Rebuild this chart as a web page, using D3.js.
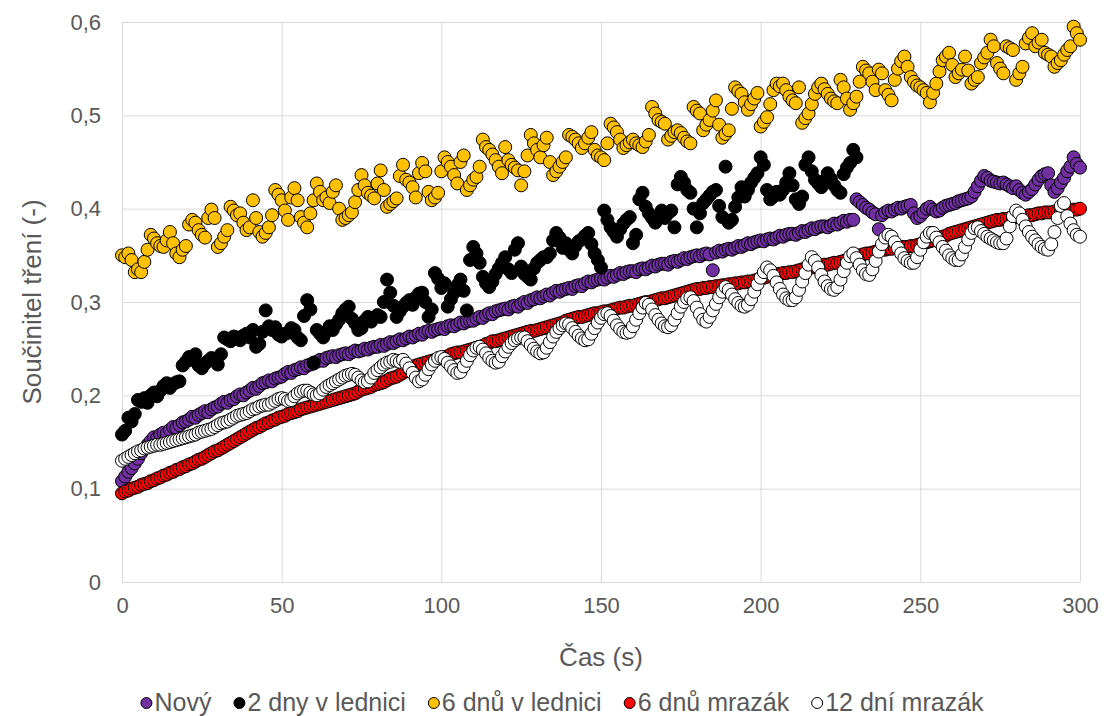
<!DOCTYPE html>
<html>
<head>
<meta charset="utf-8">
<script src="https://cdn.jsdelivr.net/npm/d3@7"></script>
<style>
  body { margin: 0; background: #fff; }
  text { font-family: "Liberation Sans", Arial, sans-serif; }
</style>
</head>
<body>
<svg id="chart" width="1104" height="716"></svg>
<script>
// Friction coefficient over time, one reading per second
const timeStep = 1; // s

const novy = [
0.108,0.113,0.118,0.122,0.127,0.132,0.138,0.143,0.147,0.151,
0.155,0.154,0.158,0.160,0.159,0.163,0.166,0.165,0.168,0.171,
0.172,0.174,0.177,0.176,0.179,0.181,0.183,0.182,0.185,0.187,
0.188,0.191,0.193,0.192,0.195,0.196,0.199,0.201,0.200,0.203,
0.205,0.208,0.207,0.210,0.213,0.214,0.216,0.215,0.218,0.219,
0.220,0.223,0.225,0.224,0.227,0.228,0.230,0.229,0.232,0.233,
0.234,0.236,0.238,0.237,0.240,0.241,0.242,0.241,0.243,0.244,
0.245,0.244,0.246,0.248,0.247,0.248,0.250,0.249,0.251,0.252,
0.252,0.254,0.253,0.255,0.257,0.256,0.258,0.260,0.259,0.261,
0.263,0.262,0.264,0.266,0.265,0.268,0.269,0.268,0.270,0.271,
0.272,0.271,0.274,0.275,0.274,0.276,0.278,0.277,0.279,0.280,
0.280,0.282,0.284,0.283,0.286,0.288,0.287,0.290,0.291,0.292,
0.293,0.292,0.295,0.296,0.295,0.298,0.300,0.299,0.302,0.303,
0.305,0.304,0.306,0.308,0.307,0.310,0.312,0.311,0.313,0.314,
0.315,0.314,0.317,0.318,0.317,0.320,0.322,0.321,0.323,0.324,
0.325,0.324,0.326,0.328,0.327,0.329,0.331,0.330,0.332,0.333,
0.333,0.332,0.335,0.336,0.335,0.337,0.339,0.338,0.340,0.341,
0.341,0.340,0.343,0.344,0.343,0.345,0.347,0.346,0.348,0.349,
0.350,0.349,0.351,0.352,0.351,0.334,0.353,0.355,0.354,0.356,
0.357,0.356,0.358,0.360,0.359,0.361,0.363,0.362,0.364,0.365,
0.366,0.365,0.367,0.368,0.367,0.369,0.371,0.370,0.372,0.373,
0.373,0.372,0.374,0.376,0.375,0.377,0.379,0.378,0.380,0.381,
0.381,0.380,0.382,0.384,0.383,0.385,0.387,0.386,0.388,0.388,
0.410,0.407,0.404,0.401,0.399,0.396,0.394,0.378,0.393,0.396,
0.398,0.397,0.399,0.401,0.400,0.402,0.403,0.404,0.395,0.390,
0.392,0.396,0.400,0.402,0.399,0.397,0.398,0.401,0.403,0.404,
0.405,0.406,0.408,0.409,0.410,0.411,0.413,0.418,0.424,0.430,
0.435,0.433,0.430,0.429,0.428,0.427,0.428,0.426,0.424,0.422,
0.424,0.420,0.417,0.415,0.418,0.421,0.426,0.431,0.435,0.437,
0.438,0.425,0.418,0.422,0.428,0.433,0.440,0.445,0.455,0.448,
0.444];

const dvaDnyLednice = [
0.158,0.162,0.176,0.172,0.180,0.195,0.193,0.197,0.192,0.200,
0.203,0.199,0.205,0.210,0.213,0.208,0.212,0.214,0.215,0.232,
0.236,0.241,0.238,0.244,0.232,0.229,0.234,0.237,0.240,0.238,
0.233,0.244,0.262,0.260,0.258,0.263,0.262,0.259,0.264,0.266,
0.262,0.270,0.252,0.255,0.268,0.291,0.274,0.270,0.273,0.265,
0.263,0.266,0.267,0.272,0.270,0.262,0.259,0.285,0.302,0.292,
0.235,0.270,0.266,0.262,0.268,0.274,0.270,0.276,0.281,0.288,
0.292,0.295,0.282,0.277,0.270,0.272,0.280,0.284,0.279,0.283,
0.286,0.284,0.300,0.324,0.310,0.296,0.284,0.290,0.295,0.299,
0.302,0.297,0.305,0.309,0.310,0.300,0.284,0.292,0.331,0.325,
0.315,0.320,0.295,0.303,0.310,0.318,0.324,0.312,0.291,0.345,
0.359,0.352,0.342,0.327,0.320,0.316,0.322,0.330,0.336,0.342,
0.348,0.335,0.331,0.356,0.363,0.338,0.330,0.327,0.324,0.336,
0.342,0.345,0.348,0.348,0.352,0.366,0.374,0.369,0.358,0.363,
0.356,0.352,0.360,0.365,0.367,0.371,0.374,0.362,0.352,0.345,
0.337,0.398,0.388,0.380,0.375,0.370,0.378,0.384,0.388,0.391,
0.363,0.372,0.410,0.417,0.402,0.395,0.390,0.385,0.392,0.398,
0.390,0.395,0.398,0.380,0.426,0.434,0.428,0.420,0.417,0.400,
0.380,0.395,0.406,0.410,0.414,0.418,0.420,0.403,0.391,0.445,
0.385,0.388,0.402,0.412,0.423,0.413,0.420,0.428,0.433,0.438,
0.455,0.447,0.420,0.410,0.413,0.418,0.415,0.420,0.428,0.438,
0.425,0.410,0.405,0.413,0.447,0.455,0.440,0.431,0.427,0.423,
0.430,0.438,0.432,0.425,0.420,0.417,0.437,0.444,0.449,0.463,
0.455];

const sestDnuLednice = [
0.350,0.348,0.352,0.345,0.332,0.335,0.332,0.343,0.356,0.372,
0.368,0.363,0.360,0.359,0.366,0.375,0.363,0.352,0.348,0.356,
0.360,0.383,0.388,0.385,0.377,0.372,0.369,0.390,0.399,0.390,
0.359,0.363,0.370,0.377,0.402,0.398,0.393,0.395,0.385,0.377,
0.380,0.409,0.390,0.375,0.370,0.374,0.380,0.393,0.420,0.415,
0.409,0.398,0.388,0.412,0.422,0.409,0.391,0.385,0.380,0.395,
0.409,0.427,0.418,0.409,0.412,0.406,0.418,0.425,0.400,0.388,
0.390,0.393,0.396,0.407,0.420,0.436,0.425,0.417,0.414,0.411,
0.427,0.441,0.420,0.402,0.405,0.408,0.411,0.435,0.447,0.431,
0.428,0.423,0.412,0.438,0.449,0.440,0.418,0.409,0.412,0.417,
0.440,0.455,0.450,0.445,0.436,0.427,0.450,0.457,0.420,0.425,
0.431,0.434,0.445,0.474,0.466,0.463,0.458,0.452,0.445,0.438,
0.466,0.452,0.447,0.444,0.441,0.425,0.440,0.457,0.479,0.470,
0.463,0.455,0.468,0.476,0.450,0.436,0.440,0.445,0.450,0.455,
0.479,0.477,0.474,0.470,0.465,0.470,0.476,0.482,0.463,0.457,
0.455,0.452,0.470,0.491,0.487,0.482,0.474,0.465,0.468,0.471,
0.474,0.470,0.468,0.466,0.472,0.479,0.509,0.502,0.495,0.493,
0.491,0.474,0.478,0.482,0.484,0.481,0.476,0.472,0.470,0.509,
0.505,0.502,0.484,0.490,0.495,0.505,0.516,0.490,0.476,0.480,
0.484,0.507,0.530,0.526,0.523,0.514,0.506,0.512,0.518,0.524,
0.488,0.493,0.498,0.512,0.527,0.534,0.531,0.534,0.527,0.520,
0.516,0.513,0.530,0.492,0.497,0.502,0.512,0.523,0.530,0.534,
0.528,0.523,0.518,0.515,0.513,0.538,0.530,0.518,0.506,0.513,
0.520,0.536,0.552,0.548,0.545,0.536,0.527,0.549,0.545,0.527,
0.522,0.516,0.538,0.550,0.558,0.563,0.552,0.541,0.536,0.532,
0.530,0.527,0.524,0.514,0.524,0.534,0.547,0.559,0.563,0.567,
0.554,0.541,0.545,0.549,0.563,0.548,0.534,0.538,0.541,0.556,
0.562,0.567,0.581,0.574,0.556,0.550,0.545,0.574,0.572,0.570,
0.538,0.545,0.552,0.577,0.583,0.588,0.574,0.578,0.581,0.567,
0.565,0.563,0.552,0.556,0.559,0.565,0.570,0.574,0.595,0.588,
0.581];

const sestDnuMrazak = [
0.095,0.097,0.098,0.100,0.101,0.102,0.104,0.105,0.106,0.108,
0.109,0.111,0.112,0.114,0.115,0.117,0.118,0.120,0.121,0.123,
0.124,0.126,0.127,0.129,0.131,0.132,0.134,0.136,0.138,0.140,
0.141,0.143,0.145,0.147,0.149,0.151,0.153,0.155,0.157,0.159,
0.161,0.163,0.165,0.166,0.168,0.170,0.171,0.173,0.174,0.176,
0.177,0.178,0.180,0.181,0.182,0.183,0.185,0.186,0.187,0.188,
0.189,0.190,0.191,0.192,0.193,0.194,0.195,0.196,0.197,0.198,
0.199,0.200,0.201,0.202,0.204,0.206,0.207,0.208,0.209,0.211,
0.212,0.213,0.214,0.216,0.218,0.219,0.220,0.222,0.224,0.226,
0.228,0.230,0.232,0.233,0.234,0.235,0.236,0.237,0.238,0.239,
0.240,0.241,0.242,0.244,0.245,0.246,0.246,0.247,0.248,0.249,
0.250,0.251,0.252,0.253,0.255,0.256,0.258,0.258,0.259,0.260,
0.261,0.262,0.263,0.264,0.265,0.266,0.267,0.268,0.269,0.269,
0.270,0.271,0.272,0.273,0.274,0.275,0.276,0.277,0.278,0.280,
0.281,0.282,0.283,0.284,0.284,0.285,0.286,0.287,0.288,0.288,
0.289,0.290,0.290,0.291,0.292,0.293,0.294,0.294,0.295,0.296,
0.296,0.297,0.298,0.299,0.300,0.300,0.301,0.302,0.303,0.304,
0.304,0.305,0.306,0.307,0.308,0.309,0.310,0.311,0.312,0.313,
0.314,0.314,0.315,0.315,0.316,0.316,0.317,0.317,0.318,0.318,
0.319,0.319,0.320,0.320,0.321,0.321,0.322,0.322,0.323,0.324,
0.325,0.326,0.327,0.328,0.329,0.330,0.330,0.331,0.331,0.332,
0.332,0.333,0.334,0.335,0.336,0.337,0.337,0.338,0.339,0.339,
0.340,0.340,0.341,0.342,0.342,0.343,0.344,0.345,0.346,0.348,
0.349,0.350,0.351,0.352,0.352,0.353,0.354,0.355,0.356,0.356,
0.357,0.357,0.358,0.358,0.359,0.359,0.359,0.360,0.360,0.361,
0.362,0.363,0.364,0.365,0.366,0.367,0.368,0.370,0.371,0.373,
0.374,0.375,0.376,0.377,0.378,0.379,0.380,0.381,0.382,0.383,
0.384,0.385,0.386,0.387,0.388,0.388,0.389,0.389,0.390,0.390,
0.391,0.391,0.392,0.392,0.393,0.393,0.394,0.395,0.395,0.396,
0.396,0.396,0.397,0.397,0.397,0.398,0.398,0.398,0.399,0.399,
0.400];

const dvanactDniMrazak = [
0.130,0.132,0.134,0.136,0.138,0.140,0.141,0.143,0.144,0.145,
0.146,0.147,0.147,0.148,0.149,0.150,0.151,0.152,0.153,0.154,
0.155,0.156,0.157,0.158,0.160,0.161,0.162,0.163,0.164,0.166,
0.168,0.170,0.171,0.172,0.174,0.176,0.178,0.179,0.180,0.181,
0.183,0.185,0.186,0.188,0.189,0.190,0.190,0.192,0.194,0.196,
0.197,0.196,0.194,0.195,0.199,0.202,0.204,0.205,0.205,0.203,
0.201,0.200,0.202,0.206,0.209,0.211,0.213,0.215,0.217,0.219,
0.221,0.222,0.223,0.222,0.219,0.216,0.214,0.215,0.219,0.224,
0.227,0.230,0.233,0.235,0.236,0.238,0.237,0.236,0.238,0.234,
0.229,0.224,0.219,0.215,0.217,0.222,0.228,0.233,0.237,0.240,
0.241,0.239,0.235,0.231,0.227,0.224,0.225,0.231,0.237,0.243,
0.248,0.251,0.252,0.249,0.245,0.240,0.237,0.235,0.236,0.242,
0.247,0.252,0.256,0.259,0.261,0.262,0.262,0.258,0.254,0.250,
0.247,0.245,0.246,0.251,0.257,0.263,0.268,0.272,0.275,0.277,
0.276,0.272,0.268,0.264,0.261,0.259,0.260,0.266,0.272,0.278,
0.283,0.287,0.288,0.285,0.280,0.275,0.271,0.268,0.267,0.268,
0.274,0.281,0.288,0.294,0.299,0.297,0.292,0.286,0.281,0.277,
0.274,0.273,0.275,0.281,0.288,0.295,0.300,0.304,0.305,0.301,
0.294,0.287,0.281,0.279,0.284,0.291,0.298,0.305,0.311,0.316,
0.313,0.308,0.303,0.299,0.296,0.295,0.297,0.303,0.311,0.319,
0.326,0.332,0.337,0.334,0.328,0.321,0.314,0.308,0.304,0.302,
0.302,0.305,0.313,0.322,0.331,0.340,0.348,0.344,0.337,0.329,
0.322,0.317,0.314,0.313,0.316,0.324,0.333,0.342,0.349,0.352,
0.347,0.340,0.334,0.330,0.329,0.335,0.344,0.354,0.362,0.369,
0.372,0.370,0.364,0.358,0.352,0.347,0.344,0.342,0.342,0.348,
0.356,0.364,0.370,0.374,0.374,0.369,0.364,0.359,0.355,0.350,
0.347,0.345,0.345,0.351,0.359,0.367,0.374,0.379,0.380,0.376,
0.373,0.370,0.368,0.366,0.364,0.363,0.363,0.368,0.381,0.392,
0.398,0.395,0.388,0.381,0.375,0.370,0.366,0.362,0.359,0.357,
0.356,0.362,0.375,0.390,0.403,0.406,0.392,0.384,0.377,0.372,
0.370];

const seriesNames  = ["Nový", "2 dny v lednici", "6 dnů v lednici", "6 dnů mrazák", "12 dní mrazák"];
const seriesValues = [novy, dvaDnyLednice, sestDnuLednice, sestDnuMrazak, dvanactDniMrazak];
const seriesColors = ["#7030A0", "#000000", "#FFC000", "#FF0000", "#FFFFFF"];

const xTicks = [0, 50, 100, 150, 200, 250, 300];
const yTicks = [0, 0.1, 0.2, 0.3, 0.4, 0.5, 0.6];
const yTickLabels = ["0", "0,1", "0,2", "0,3", "0,4", "0,5", "0,6"];
const xTitle = "Čas (s)";
const yTitle = "Součinitel tření (-)";

const plot = { left: 122, right: 1080, top: 22, bottom: 582 };
const gridColor = "#d9d9d9";
const labelColor = "#595959";
const tickFont = 22, titleFont = 26, legendFont = 25;

const svg = d3.select("#chart");

const x = d3.scaleLinear().domain([0, 300]).range([plot.left, plot.right]);
const y = d3.scaleLinear().domain([0, 0.6]).range([plot.bottom, plot.top]);

// horizontal grid + y labels
const yAxis = svg.append("g")
  .attr("transform", `translate(${plot.left},0)`)
  .call(d3.axisLeft(y).tickValues(yTicks)
    .tickSize(-(plot.right - plot.left))
    .tickPadding(21)
    .tickFormat((d, i) => yTickLabels[i]));
yAxis.select(".domain").remove();
yAxis.selectAll("line").attr("stroke", gridColor);
yAxis.selectAll("text").attr("fill", labelColor).attr("font-size", tickFont);

// vertical grid + x labels
const xAxis = svg.append("g")
  .attr("transform", `translate(0,${plot.bottom})`)
  .call(d3.axisBottom(x).tickValues(xTicks)
    .tickSize(-(plot.bottom - plot.top))
    .tickPadding(15)
    .tickFormat(d3.format("d")));
xAxis.select(".domain").attr("stroke", gridColor);
xAxis.selectAll("line").attr("stroke", gridColor);
xAxis.selectAll("text").attr("fill", labelColor).attr("font-size", tickFont);

// axis titles
svg.append("text")
  .attr("x", (plot.left + plot.right) / 2).attr("y", 666)
  .attr("text-anchor", "middle").attr("fill", labelColor).attr("font-size", titleFont)
  .text(xTitle);
svg.append("text")
  .attr("transform", `translate(41,${(plot.top + plot.bottom) / 2}) rotate(-90)`)
  .attr("text-anchor", "middle").attr("fill", labelColor).attr("font-size", titleFont)
  .text(yTitle);

// scatter markers, drawn series by series
const r = 6.5;
seriesValues.forEach((vals, si) => {
  svg.append("g")
    .selectAll("circle")
    .data(vals)
    .join("circle")
    .attr("cx", (d, i) => x(i * timeStep))
    .attr("cy", d => y(d))
    .attr("r", r)
    .attr("fill", seriesColors[si])
    .attr("stroke", "#000")
    .attr("stroke-width", 1);
});

// legend along the bottom
const legend = svg.append("g");
const items = seriesNames.map((name, i) => {
  const g = legend.append("g");
  g.append("circle").attr("cx", 6).attr("cy", -8).attr("r", 5.5)
    .attr("fill", seriesColors[i]).attr("stroke", "#000").attr("stroke-width", 1);
  const t = g.append("text").attr("x", 14).attr("y", 0)
    .attr("fill", labelColor).attr("font-size", legendFont).text(name);
  return { g, w: 14 + t.node().getComputedTextLength() };
});
const gap = 22;
const total = d3.sum(items, d => d.w) + gap * (items.length - 1);
let cx = 562 - total / 2;
items.forEach(it => {
  it.g.attr("transform", `translate(${cx},711)`);
  cx += it.w + gap;
});
</script>
</body>
</html>
